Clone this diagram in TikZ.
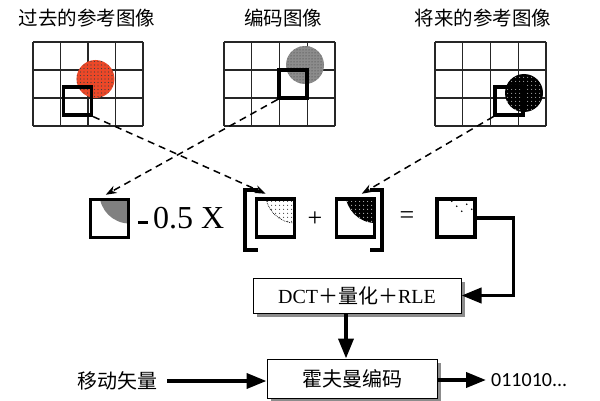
\documentclass[tikz,border=0pt]{standalone}
\usepackage{fontspec}
\setmainfont{Liberation Serif}
\newfontfamily\cjk{Noto Sans CJK SC}
\newfontfamily\calib{Carlito}
\usetikzlibrary{arrows.meta,patterns.meta,shadows,calc}
\definecolor{redcirc}{RGB}{236,72,40}
\begin{document}
\begin{tikzpicture}[x=1pt,y=-1pt,
  gridline/.style={line width=1.4pt, black!85},
  blocksq/.style={draw, line width=3.2pt, minimum size=28pt, inner sep=0pt},
  bigsq/.style={draw, line width=3.5pt, minimum size=38pt, inner sep=0pt},
  dasharrow/.style={line width=1.5pt, dash pattern=on 7pt off 5pt, -{Stealth[length=11pt,width=8pt]}},
  bigarrow/.style={line width=3.8pt, -{Triangle[length=20pt,width=15pt]}},
  procbox/.style={draw, line width=1pt, fill=white, inner sep=0pt,
     drop shadow={shadow xshift=4pt, shadow yshift=-4pt, fill=black!45, opacity=1}},
  title/.style={font=\cjk\fontsize{19.5}{19.5}\selectfont, inner sep=0pt},
  bracket/.style={line width=3.8pt},
]
\useasboundingbox (0,0) rectangle (600,401);

% titles
\node[title] (t1) at (87,18) {过去的参考图像};
\node[title] (t2) at (283,18) {编码图像};
\node[title] (t3) at (483,18) {将来的参考图像};

% grids
\foreach \x in {33,60.5,88,115.5,143} \draw[gridline] (\x,42) -- (\x,126);
\foreach \y in {42,70,98,126} \draw[gridline] (33,\y) -- (143,\y);
\foreach \x in {224,251.75,279.5,307.25,335} \draw[gridline] (\x,42) -- (\x,126);
\foreach \y in {42,70,98,126} \draw[gridline] (224,\y) -- (335,\y);
\foreach \x in {435,462.75,490.5,518.25,546} \draw[gridline] (\x,42) -- (\x,126);
\foreach \y in {42,70,98,126} \draw[gridline] (435,\y) -- (546,\y);

% circles
\fill[redcirc] (95.5,79) circle (19);
\fill[pattern={Dots[distance=3.5pt,radius=0.6pt]}, pattern color=black!75] (95.5,79) circle (19);
\fill[black!45] (305,65) circle (19);
\fill[pattern={Dots[distance=3pt,radius=0.5pt]}, pattern color=black!80] (305,65) circle (19);
\fill[black] (524,93) circle (19);
\fill[pattern={Dots[distance=4pt,radius=0.6pt]}, pattern color=white] (524,93) circle (19);

% blocks in the grids
\node[blocksq] (s1) at (77.5,101) {};
\node[blocksq] (s2) at (293,84) {};
\node[blocksq] (s3) at (509,101) {};

% equation row
\node[bigsq, path picture={
   \fill[black!50] ($(path picture bounding box.north east)+(1,-6)$) circle (30);}] (A) at (109.5,218.5) {};
\node[anchor=base, inner sep=0pt, font=\fontsize{32}{32}\selectfont] (mul) at (181,228) {\rule[0.12em]{10pt}{3.5pt}\,0.5 X};
\node[bigsq, path picture={
   \fill[pattern={Dots[distance=4pt,radius=0.6pt]}, pattern color=black] ($(path picture bounding box.north east)+(1,-6)$) circle (30);
   \draw[line width=0.7pt, densely dotted] ($(path picture bounding box.north east)+(1,-6)$) circle (30);}] (B) at (275.5,218) {};
\node[inner sep=0pt, font=\fontsize{26}{26}\selectfont] (plus) at (315,219) {+};
\node[bigsq, path picture={
   \fill[black] ($(path picture bounding box.north east)+(1,-6)$) circle (30);
   \fill[pattern={Dots[distance=4pt,radius=0.6pt]}, pattern color=white] ($(path picture bounding box.north east)+(1,-6)$) circle (30);}] (C) at (355.5,218) {};
\node[inner sep=0pt, font=\fontsize{26}{26}\selectfont] (eq) at (407,218) {=};
\node[bigsq] (D) at (456,218) {};
\foreach \p in {(-25,4),(-20,9),(-10,7),(-5,12),(-15,14),(-7,3)}
  \fill[black] ([shift={\p}]D.north east) circle (0.8);

\draw[bracket] (258,190) -- (245,190) -- (245,250) -- (258,250);
\draw[bracket] (370,190) -- (382,190) -- (382,250) -- (370,250);

% dashed motion arrows
\draw[dasharrow] (s1.south east) -- ([shift={(11,-3.5)}]B.north west);
\draw[dasharrow] (s2.south west) -- ([shift={(17,-3)}]A.north west);
\draw[dasharrow] (s3.south west) -- ([shift={(27,-3.5)}]C.north west);

% processing boxes
\node[procbox, minimum width=208pt, minimum height=35pt] (DCT) at (357,295.5)
  {\fontsize{20}{20}\selectfont DCT{\cjk ＋量化＋}RLE};
\node[procbox, minimum width=170pt, minimum height=39pt] (HUF) at (352,378.5)
  {\cjk\fontsize{20}{20}\selectfont 霍夫曼编码};
\node[inner sep=0pt, font=\cjk\fontsize{20}{20}\selectfont] (MV) at (117,381) {移动矢量};
\node[anchor=west, inner sep=0pt, font=\calib\fontsize{20}{20}\selectfont] (OUT) at (491,380) {011010...};

\draw[bigarrow] (D.east) -| ([xshift=52pt]DCT.east) -- (DCT.east);
\draw[bigarrow] ([xshift=-11pt]DCT.south) -- ([xshift=-11pt]DCT.south |- HUF.north);
\draw[bigarrow] ([xshift=10pt]MV.east) -- (MV.east -| HUF.west);
\draw[bigarrow] (HUF.east |- OUT.west) -- ([xshift=-5pt]OUT.west);
\end{tikzpicture}
\end{document}
